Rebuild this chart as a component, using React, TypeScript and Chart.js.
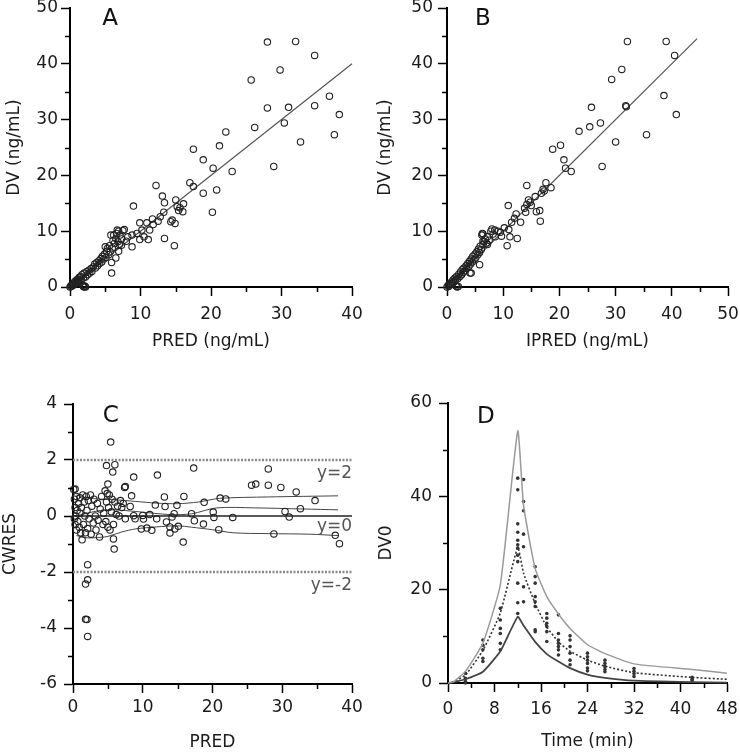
import React, { useEffect, useRef } from 'react';
import { Chart, registerables } from 'chart.js';
Chart.register(...registerables);

const FONT = "'DejaVu Sans', sans-serif";

// ---------- Panel A: DV vs PRED ----------
const aPred = [28.0,32.0,34.7,29.8,25.7,36.8,28.0,31.0,34.7,38.2,30.4,26.2,37.5,32.7,28.9,22.1,17.5,21.2,18.9,20.3,23.0,17.0,17.5,18.9,20.8,20.2,12.2,13.1,13.4,15.0,16.1,15.4,13.3,9.0,14.3,14.9,13.4,14.8,11.7,10.9,9.9,10.2,11.3,11.1,9.9,8.8,8.8,7.7,6.7,5.8,5.9,15.6,16.0,15.2,14.5,12.8,8.2,8.0,9.5,10.5,11.8,12.5,7.3,6.9,6.5,
  0,0.1,0.2,0.3,0.4,0.5,0.6,0.7,0.8,0.9,1.0,1.1,1.2,1.3,1.4,1.5,1.6,1.7,1.8,1.9,2.0,2.1,2.2,1.9,2.0,2.2,2.4,2.5,2.7,2.8,3.0,3.1,3.3,3.5,3.6,3.8,3.9,4.1,4.2,4.4,4.5,4.6,4.8,4.9,5.0,5.1,5.2,5.3,5.5,5.6,5.7,5.9,6.0,6.1,6.2,6.3,6.5,6.6,6.8,6.9,7.1,7.3,7.5,7.0];
const aDv = [43.9,44.0,41.5,38.9,37.1,34.2,32.1,32.2,32.5,30.9,29.4,28.6,27.3,26.0,21.6,27.8,24.7,25.3,22.8,21.3,20.7,18.7,18.0,16.8,17.4,13.4,18.2,16.3,15.1,15.6,14.9,13.7,13.4,14.5,11.7,11.4,8.7,7.4,12.2,11.5,11.5,10.2,10.2,8.5,8.5,7.2,9.3,10.3,10.2,9.3,2.5,14.2,13.5,14.4,12.0,12.6,9.0,8.2,9.6,9.0,11.2,11.8,7.5,6.4,5.2,
  0,0.2,0.1,0.5,0.3,0.7,0.4,1.0,0.6,1.2,0.8,1.4,1.0,1.7,1.2,1.9,1.4,2.2,0.3,0.1,0.0,0.2,0.0,1.6,2.5,1.8,2.8,2.2,3.0,2.5,3.3,2.8,3.6,4.1,3.4,4.4,3.8,4.7,4.2,5.1,4.5,5.5,5.0,5.9,7.2,5.3,6.4,6.9,5.8,7.4,6.3,4.4,7.0,8.3,9.3,7.8,8.7,9.6,8.1,10.0,9.3,8.6,10.1,7.6];
const aLineX = [0, 40];
const aLineY = [0, 40];

// ---------- Panel B: DV vs IPRED ----------
const bIpred = [32.1,39.0,40.5,31.1,29.3,38.6,25.7,31.8,31.9,40.8,27.3,25.4,23.5,35.5,30.0,27.6,18.8,20.2,20.8,21.1,22.1,17.6,17.1,18.5,16.5,16.6,14.2,15.7,14.5,14.2,13.8,15.9,10.9,12.3,13.1,11.5,11.0,11.2,12.5,10.7,9.7,9.1,8.0,6.4,6.4,5.8,4.3,14.8,15.0,16.8,17.3,12.0,9.5,8.6,10.2,7.2,14.0,
  0,0.2,0.3,0.5,0.6,0.8,0.9,1.1,1.2,1.4,1.5,1.6,1.7,1.8,1.9,2.0,2.1,2.3,2.4,2.6,2.7,2.9,3.0,3.2,3.4,3.5,3.7,3.9,4.0,4.2,4.3,4.5,4.6,4.8,5.0,5.1,5.3,5.5,5.6,5.8,5.9,6.1,6.2,6.3,6.4,6.6,6.8,7.0,7.2,7.5,7.8,8.2,8.5,4.1];
const bDv = [44.0,44.0,41.5,39.0,37.2,34.3,32.2,32.5,32.3,30.9,29.4,28.7,27.9,27.3,26.0,21.6,24.7,25.4,22.8,21.3,20.7,18.7,17.5,17.8,13.7,11.8,18.2,16.2,15.6,14.8,14.1,13.5,14.6,13.1,11.6,11.6,10.3,9.0,8.7,7.4,9.1,10.0,10.4,9.5,8.2,4.0,2.5,15.2,14.6,16.8,17.2,12.3,9.8,9.0,10.6,7.6,13.4,
  0,0.3,0.1,0.6,0.4,0.9,0.6,1.3,0.9,1.6,1.2,0.2,1.9,0.0,1.5,0.1,2.3,1.9,2.7,2.2,3.1,2.6,3.4,2.9,3.8,3.3,4.2,3.7,4.6,4.1,5.0,4.5,5.5,4.9,5.9,5.2,6.3,5.8,6.8,6.2,7.3,6.7,9.3,9.6,7.6,8.1,8.6,7.9,9.0,8.4,10.0,9.5,10.2,2.5];
const bLineX = [0, 44.5];
const bLineY = [0, 44.5];

// ---------- Panel C: CWRES vs PRED ----------
const cPred = [5.4,4.8,6.0,5.7,8.7,12.1,17.3,28.0,25.6,26.2,28.0,29.8,32.0,34.7,32.6,30.4,31.0,22.9,20.9,28.8,37.6,38.2,15.8,15.9,13.1,18.8,21.1,21.9,20.1,20.2,18.7,17.4,17.0,14.5,14.2,13.2,11.8,11.0,10.0,14.9,12.0,13.4,13.9,14.6,15.1,13.9,9.8,10.6,11.3,10.1,8.9,8.7,7.5,8.2,7.4,8.4,
  2.1,2.1,1.8,1.8,2.0,2.1,5.8,5.9,0.3,7.5,5.0,
  0.1,0.2,0.2,0.3,0.3,0.4,0.5,0.5,0.6,0.7,0.8,0.9,1.0,1.0,1.1,1.2,1.3,1.4,1.5,1.6,1.7,1.8,1.9,2.0,2.1,2.2,2.3,2.5,2.6,2.7,2.9,3.0,3.2,3.3,3.5,3.6,3.8,3.9,4.1,4.3,4.4,4.6,4.7,4.8,4.9,5.0,5.1,5.2,5.3,5.5,5.6,5.8,6.0,6.2,6.4,6.6,6.8,7.0,7.2];
const cCwres = [2.64,1.8,1.83,1.57,1.39,1.46,1.71,1.68,1.1,1.14,1.1,1.02,0.86,0.55,0.26,0.16,-0.04,-0.05,-0.49,-0.64,-0.69,-0.99,-0.93,0.7,0.68,0.49,0.64,0.61,0.14,-0.05,-0.29,-0.17,0.08,0.08,-0.04,0.34,0.39,0.05,0.02,0.38,-0.1,-0.21,-0.39,-0.46,-0.37,-0.61,-0.46,-0.43,-0.51,-0.11,-0.1,0.01,-0.1,0.34,1.02,0.72,
  -1.74,-2.28,-2.43,-3.69,-3.7,-4.3,-0.82,-1.18,0.96,1.05,1.14,
  0.95,0.6,-0.1,0.3,-0.3,0.0,0.7,-0.5,0.2,-0.2,0.45,-0.4,0.65,0.1,-0.6,0.3,-0.85,0.75,-0.3,0.5,0.0,-0.6,0.7,0.2,-0.45,0.55,-0.1,0.75,-0.65,0.35,-0.25,0.6,0.0,-0.5,0.45,-0.15,-0.75,0.25,0.7,-0.3,0.1,0.9,-0.2,0.5,0.8,-0.4,0.3,0.75,-0.5,0.15,0.6,-0.3,0.5,0.05,0.35,0.0,0.55,0.3,0.45];
const cUpperX = [0.5,2,4,6,9,12,15,18,21,28,38];
const cUpperY = [0.75,0.65,0.6,0.58,0.52,0.46,0.44,0.5,0.63,0.68,0.72];
const cMidX = [0.5,2,4,6,9,14,17,20.6,26,33,38];
const cMidY = [0.0,0.1,0.2,0.22,0.16,0.05,0.08,0.29,0.29,0.25,0.22];
const cLowX = [0.5,2,4,5,7,9,12,15,17,20,23,28,34,38];
const cLowY = [-0.7,-0.78,-0.76,-0.73,-0.57,-0.46,-0.39,-0.35,-0.4,-0.49,-0.6,-0.63,-0.65,-0.7];
const cRefX = [0, 40];

// ---------- Panel D: DV0 vs Time ----------
const dTime = [3,3,3,3, 6,6,6,6,6, 9,9,9,9,9,9, 12,12,12,12,12,12,12,12,12,12,12,12, 13,13,13,13,13,13,13, 15,15,15,15,15,15,15,15, 17,17,17,17,17,17, 19,19,19,19,19,19,19, 21,21,21,21,21,21, 24,24,24,24,24,24, 27,27,27,27,27, 32,32,32,32, 42,42,42];
const dObs = [2.1,1.0,0.3,0.0, 9.2,8.1,7.1,5.3,4.6, 16.0,13.5,11.7,10.6,8.5,7.1, 43.9,41.4,34.1,32.3,30.6,29.6,28.9,27.4,26.0,21.4,17.2,14.9, 43.6,38.9,36.9,31.9,29.2,20.6,17.4, 24.9,22.8,21.4,18.5,17.4,16.4,11.4,11.0, 14.9,13.9,12.8,12.1,11.0,8.9, 14.6,10.6,9.2,8.5,7.8,7.1,6.0, 10.1,9.2,7.8,6.4,4.9,3.9, 6.4,5.6,4.9,4.2,3.2,2.6, 4.9,4.2,3.5,2.9,2.4, 3.1,2.5,2.0,1.4, 1.2,0.8,0.5];
const dLineT = [0,1,3,6,9,12,13,15,17,19,21,24,27,32,42,48];
const dUpper = [0,0.3,2.5,8.5,21,54,38,24.5,18.5,14.8,11.7,8.2,6.3,4.1,2.9,2.1];
const dMedian = [0,0.3,1.7,7,15,29,23.5,17,12,8.8,6.8,4.9,3.6,2.2,1.2,0.8];
const dLower = [0,0.2,0.8,2.4,6.8,14.2,12.3,8.8,6.2,4.6,3.2,1.8,1.1,0.5,0.2,0.1];

const zip = (xs: number[], ys: number[]) => xs.map((x, i) => ({ x, y: ys[i] }));

const minorTicksPlugin = {
  id: 'minorTicks',
  afterDraw(chart: any, _a: any, opts: any) {
    const { ctx, chartArea } = chart;
    const xs = chart.scales.x, ys = chart.scales.y;
    ctx.save();
    ctx.strokeStyle = '#000';
    ctx.lineWidth = 1.5;
    const len = opts.length || 5;
    (opts.x || []).forEach((v: number) => {
      const px = Math.round(xs.getPixelForValue(v)) + 0.5;
      ctx.beginPath(); ctx.moveTo(px, chartArea.bottom); ctx.lineTo(px, chartArea.bottom + len); ctx.stroke();
    });
    (opts.y || []).forEach((v: number) => {
      const py = Math.round(ys.getPixelForValue(v)) + 0.5;
      ctx.beginPath(); ctx.moveTo(chartArea.left - len, py); ctx.lineTo(chartArea.left, py); ctx.stroke();
    });
    ctx.restore();
  },
};

const textPlugin = {
  id: 'panelText',
  afterDraw(chart: any, _a: any, opts: any) {
    const { ctx } = chart;
    const xs = chart.scales.x, ys = chart.scales.y;
    ctx.save();
    (opts.items || []).forEach((t: any) => {
      ctx.font = `${t.size}px ${FONT}`;
      ctx.fillStyle = t.color || '#222';
      ctx.textAlign = t.align || 'center';
      ctx.textBaseline = 'middle';
      ctx.fillText(t.text, xs.getPixelForValue(t.x), ys.getPixelForValue(t.y));
    });
    ctx.restore();
  },
};

function axis(o: any) {
  const horizontal = o.horizontal;
  return {
    type: 'linear',
    min: o.min,
    max: o.max,
    ticks: {
      stepSize: o.step,
      autoSkip: false,
      maxRotation: 0,
      padding: o.tickPad,
      color: '#1a1a1a',
      font: { family: FONT, size: 17 },
      callback: (v: number) => String(v),
    },
    grid: { display: true, drawOnChartArea: false, drawTicks: true, tickLength: 9, tickColor: '#000', tickWidth: 1.5 },
    border: { display: true, color: '#000', width: 2 },
    title: {
      display: true,
      text: o.title,
      color: '#1a1a1a',
      font: { family: FONT, size: 17 },
      padding: o.titlePad,
    },
    afterFit: (s: any) => {
      if (horizontal) { s.height = o.size; s.paddingLeft = 0; s.paddingRight = 0; }
      else { s.width = o.size; s.paddingTop = 0; s.paddingBottom = 0; }
    },
  };
}

const circleStyle = {
  type: 'scatter',
  pointRadius: 3.2,
  pointBorderWidth: 1.1,
  pointBorderColor: '#222',
  pointBackgroundColor: 'rgba(255,255,255,0)',
  pointHoverRadius: 3.2,
  clip: false,
};

function lineDs(xs: number[], ys: number[], color: string, width: number, dash: number[] = []) {
  return {
    type: 'line',
    data: zip(xs, ys),
    borderColor: color,
    borderWidth: width,
    borderDash: dash,
    pointRadius: 0,
    fill: false,
    tension: 0.3,
    clip: false,
  };
}

function makeConfig(p: any) {
  return {
    type: 'scatter',
    data: { datasets: p.datasets },
    options: {
      animation: false,
      responsive: false,
      events: [],
      layout: { padding: p.padding },
      plugins: {
        legend: { display: false },
        tooltip: { enabled: false },
        minorTicks: p.minor,
        panelText: { items: p.texts },
      },
      scales: { x: p.x, y: p.y },
    },
    plugins: [minorTicksPlugin, textPlugin],
  };
}

const range = (a: number, b: number, s: number) => { const r: number[] = []; for (let v = a; v <= b + 1e-9; v += s) r.push(v); return r; };

const panels = [
  {
    left: 0, top: 0, w: 370, h: 376,
    padding: { left: 0, top: 8, right: 18, bottom: 0 },
    x: axis({ horizontal: true, min: 0, max: 40, step: 10, tickPad: 8, title: 'PRED (ng/mL)', titlePad: { top: 0, bottom: 24 }, size: 89 }),
    y: axis({ horizontal: false, min: 0, max: 50, step: 10, tickPad: 3, title: 'DV (ng/mL)', titlePad: { top: 4, bottom: 0 }, size: 70 }),
    minor: { x: range(5, 35, 10), y: range(5, 45, 10), length: 5 },
    texts: [{ text: 'A', x: 5.7, y: 48.1, size: 23, color: '#111' }],
    datasets: [
      { ...circleStyle, data: zip(aPred, aDv) },
      { ...lineDs(aLineX, aLineY, '#555', 1.2), tension: 0 },
    ],
  },
  {
    left: 370, top: 0, w: 370, h: 376,
    padding: { left: 0, top: 8, right: 12, bottom: 0 },
    x: axis({ horizontal: true, min: 0, max: 50, step: 10, tickPad: 8, title: 'IPRED (ng/mL)', titlePad: { top: 0, bottom: 24 }, size: 89 }),
    y: axis({ horizontal: false, min: 0, max: 50, step: 10, tickPad: 5, title: 'DV (ng/mL)', titlePad: { top: 5, bottom: 0 }, size: 77 }),
    minor: { x: range(5, 45, 10), y: range(5, 45, 10), length: 5 },
    texts: [{ text: 'B', x: 6.4, y: 48.1, size: 23, color: '#111' }],
    datasets: [
      { ...circleStyle, data: zip(bIpred, bDv) },
      { ...lineDs(bLineX, bLineY, '#555', 1.2), tension: 0 },
    ],
  },
  {
    left: 0, top: 376, w: 370, h: 377,
    padding: { left: 0, top: 28, right: 18, bottom: 0 },
    x: axis({ horizontal: true, min: 0, max: 40, step: 10, tickPad: 4, title: 'PRED', titlePad: { top: 0, bottom: 0 }, size: 69 }),
    y: axis({ horizontal: false, min: -6, max: 4, step: 2, tickPad: 7, title: 'CWRES', titlePad: { top: 0, bottom: 0 }, size: 73 }),
    minor: { x: range(5, 35, 10), y: range(-5, 3, 2), length: 5 },
    texts: [
      { text: 'C', x: 5.4, y: 3.58, size: 23, color: '#111' },
      { text: 'y=2', x: 40, y: 1.51, size: 17, color: '#555', align: 'right' },
      { text: 'y=0', x: 40, y: -0.36, size: 17, color: '#555', align: 'right' },
      { text: 'y=-2', x: 40, y: -2.47, size: 17, color: '#555', align: 'right' },
    ],
    datasets: [
      { ...lineDs(cRefX, [2, 2], '#888', 2.5, [2, 1.5]), tension: 0 },
      { ...lineDs(cRefX, [-2, -2], '#888', 2.5, [2, 1.5]), tension: 0 },
      { ...lineDs(cRefX, [0, 0], '#222', 1.6), tension: 0 },
      { ...circleStyle, data: zip(cPred, cCwres) },
      lineDs(cUpperX, cUpperY, '#444', 1),
      lineDs(cMidX, cMidY, '#444', 1),
      lineDs(cLowX, cLowY, '#444', 1),
    ],
  },
  {
    left: 370, top: 376, w: 370, h: 377,
    padding: { left: 0, top: 27, right: 13, bottom: 0 },
    x: axis({ horizontal: true, min: 0, max: 48, step: 8, tickPad: 7, title: 'Time (min)', titlePad: { top: 0, bottom: 1 }, size: 70 }),
    y: axis({ horizontal: false, min: 0, max: 60, step: 20, tickPad: 7, title: 'DV0', titlePad: { top: 6, bottom: 0 }, size: 78 }),
    minor: { x: range(4, 44, 8), y: range(10, 50, 20), length: 5 },
    texts: [{ text: 'D', x: 6.5, y: 57, size: 23, color: '#111' }],
    datasets: [
      { ...lineDs(dLineT, dUpper, '#9a9a9a', 1.5), tension: 0.15 },
      { ...lineDs(dLineT, dMedian, '#333', 1.6, [2, 2]), tension: 0.15 },
      { ...lineDs(dLineT, dLower, '#444', 1.8), tension: 0.15 },
      { type: 'scatter', data: zip(dTime, dObs), pointRadius: 1.8, pointBorderWidth: 0, pointBackgroundColor: '#333', clip: false },
    ],
  },
];

function Panel({ p }: { p: any }) {
  const ref = useRef<HTMLCanvasElement | null>(null);
  useEffect(() => {
    if (!ref.current) return;
    const chart = new Chart(ref.current, makeConfig(p) as any);
    return () => chart.destroy();
  }, []);
  return (
    <div style={{ position: 'absolute', left: p.left, top: p.top, width: p.w, height: p.h }}>
      <canvas ref={ref} width={p.w} height={p.h} style={{ width: p.w, height: p.h, display: 'block' }} />
    </div>
  );
}

export default function App() {
  return (
    <div style={{ position: 'absolute', left: 0, top: 0, width: 740, height: 753, background: '#fff' }}>
      {panels.map((p, i) => <Panel key={i} p={p} />)}
    </div>
  );
}
